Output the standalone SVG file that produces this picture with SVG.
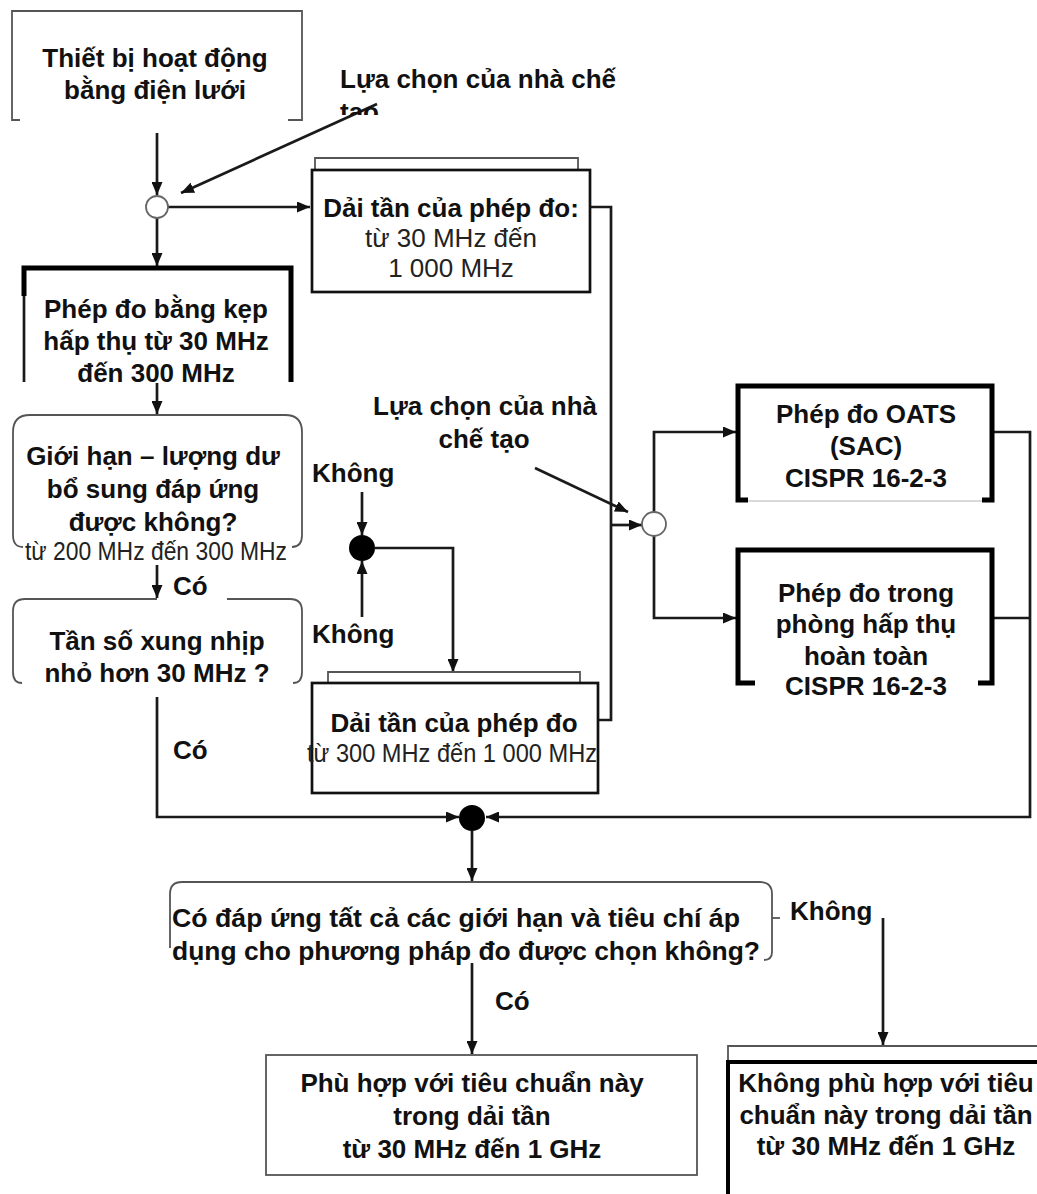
<svg xmlns="http://www.w3.org/2000/svg" width="1037" height="1194" viewBox="0 0 1037 1194">
<defs>
<marker id="ah" markerUnits="userSpaceOnUse" markerWidth="13" markerHeight="11" viewBox="0 0 13 11" refX="13" refY="5.5" orient="auto"><path d="M0,0 L13,5.5 L0,11 z" fill="#111"/></marker>
<clipPath id="clipTao"><rect x="330" y="95" width="80" height="20"/></clipPath>
</defs>
<style>
.b{font-family:"Liberation Sans",Arial,sans-serif;font-weight:bold;font-size:26px;fill:#111}
.r{font-family:"Liberation Sans",Arial,sans-serif;font-size:26px;fill:#222}
.c{text-anchor:middle}
.ln{fill:none;stroke:#1a1a1a;stroke-width:2.7}
.thin{fill:none;stroke:#555;stroke-width:1.8}
.thick{fill:none;stroke:#000;stroke-width:5}
.box{fill:#fff;stroke:#111;stroke-width:2.7}
.dot{fill:#000}
.ring{fill:#fff;stroke:#666;stroke-width:1.8}
</style>
<rect width="1037" height="1194" fill="#fff"/>

<g id="connectors">
<path class="ln" d="M157,133 V195" marker-end="url(#ah)"/>
<path class="ln" d="M157,218 V266" marker-end="url(#ah)"/>
<path class="ln" d="M168,207 H310" marker-end="url(#ah)"/>
<path class="ln" d="M377,104 L181,193" marker-end="url(#ah)"/>
<path class="ln" d="M590,207 H611 V720 H598"/>
<path class="ln" d="M611,525 H642" marker-end="url(#ah)"/>
<path class="ln" d="M535,468 L628,512" marker-end="url(#ah)"/>
<path class="ln" d="M654,512 V432 H736" marker-end="url(#ah)"/>
<path class="ln" d="M654,536 V618 H736" marker-end="url(#ah)"/>
<path class="ln" d="M992,432 H1030 V817 H486" marker-end="url(#ah)"/>
<path class="ln" d="M992,618 H1030"/>
<path class="ln" d="M157,383 V414" marker-end="url(#ah)"/>
<path class="ln" d="M157,565 V598" marker-end="url(#ah)"/>
<path class="ln" d="M157,697 V817 H459" marker-end="url(#ah)"/>
<path class="ln" d="M362,492 V535" marker-end="url(#ah)"/>
<path class="ln" d="M362,617 V561" marker-end="url(#ah)"/>
<path class="ln" d="M375,548 H453 V672" marker-end="url(#ah)"/>
<path class="ln" d="M472,831 V881" marker-end="url(#ah)"/>
<path class="ln" d="M472,963 V1054" marker-end="url(#ah)"/>
<path class="ln" d="M883,918 V1045" marker-end="url(#ah)"/>
</g>

<g id="junctions">
<circle class="ring" cx="157" cy="207" r="11"/>
<circle class="ring" cx="654" cy="524" r="12"/>
<circle class="dot" cx="362" cy="548" r="13"/>
<circle class="dot" cx="472" cy="818" r="13"/>
</g>

<g id="n-mains">
<path class="thin" d="M20,120 H12 V11 H302 V120 H288"/>
<text class="b c" x="155" y="67">Thiết bị hoạt động</text>
<text class="b c" x="155" y="99">bằng điện lưới</text>
</g>

<g id="lbl-choice1">
<text class="b" x="340" y="88">Lựa chọn của nhà chế</text>
<text class="b" x="340" y="121" clip-path="url(#clipTao)">tạo</text>
</g>

<g id="n-range1">
<path class="thin" d="M315,170 V158 H578 V170"/>
<rect class="box" x="312" y="170" width="278" height="122"/>
<text class="b c" x="451" y="217">Dải tần của phép đo:</text>
<text class="r c" x="451" y="247">từ 30 MHz đến</text>
<text class="r c" x="451" y="277">1 000 MHz</text>
</g>

<g id="n-clamp">
<path class="thick" d="M24,296 V268 H291 V382"/>
<path class="ln" d="M24,296 V382"/>
<text class="b c" x="156" y="318">Phép đo bằng kẹp</text>
<text class="b c" x="156" y="350">hấp thụ từ 30 MHz</text>
<text class="b c" x="156" y="382">đến 300 MHz</text>
</g>

<g id="n-limit">
<path class="thin" d="M23,547 Q13,547 13,535 V432 Q13,415 30,415 H285 Q302,415 302,432 V535 Q302,547 292,547"/>
<text class="b c" x="153" y="465">Giới hạn – lượng dư</text>
<text class="b c" x="153" y="498">bổ sung đáp ứng</text>
<text class="b c" x="153" y="531">được không?</text>
<text class="r" x="25" y="560" textLength="262" lengthAdjust="spacingAndGlyphs">từ 200 MHz đến 300 MHz</text>
</g>

<g id="lbl-yes1"><text class="b" x="173" y="595">Có</text></g>

<g id="n-clock">
<path class="thin" d="M157,599 H25 Q13,599 13,611 V672 Q13,683 22,683"/>
<path class="thin" d="M227,599 H290 Q302,599 302,611 V672 Q302,683 293,683"/>
<text class="b c" x="157" y="650">Tần số xung nhịp</text>
<text class="b c" x="157" y="682">nhỏ hơn 30 MHz ?</text>
</g>

<g id="lbl-yes2"><text class="b" x="173" y="759">Có</text></g>
<g id="lbl-no1"><text class="b" x="312" y="482">Không</text></g>
<g id="lbl-no2"><text class="b" x="312" y="643">Không</text></g>

<g id="n-range2">
<path class="thin" d="M328,683 V672 H580 V683"/>
<rect class="box" x="312" y="683" width="286" height="110"/>
<text class="b c" x="454" y="732">Dải tần của phép đo</text>
<text class="r" x="307" y="762" textLength="290" lengthAdjust="spacingAndGlyphs">từ 300 MHz đến 1 000 MHz</text>
</g>

<g id="lbl-choice2">
<text class="b c" x="485" y="415">Lựa chọn của nhà</text>
<text class="b c" x="484" y="448">chế tạo</text>
</g>

<g id="n-oats">
<path class="thick" d="M748,500 H738 V386 H992 V500 H982"/>
<path fill="none" stroke="#ccc" stroke-width="1.5" d="M748,501 H982"/>
<text class="b c" x="866" y="423">Phép đo OATS</text>
<text class="b c" x="866" y="455">(SAC)</text>
<text class="b c" x="866" y="487">CISPR 16-2-3</text>
</g>

<g id="n-far">
<path class="thick" d="M755,683 H738 V550 H992 V683 H978"/>
<text class="b c" x="866" y="602">Phép đo trong</text>
<text class="b c" x="866" y="633">phòng hấp thụ</text>
<text class="b c" x="866" y="665">hoàn toàn</text>
<text class="b c" x="866" y="695">CISPR 16-2-3</text>
</g>

<g id="n-meets">
<path class="thin" d="M170,948 V894 Q170,882 182,882 H760 Q772,882 772,894 V952 Q772,960 764,960"/>
<path class="thin" d="M772,918 H780"/>
<text class="b" x="172" y="927" textLength="568" lengthAdjust="spacingAndGlyphs">Có đáp ứng tất cả các giới hạn và tiêu chí áp</text>
<text class="b" x="172" y="960" textLength="588" lengthAdjust="spacingAndGlyphs">dụng cho phương pháp đo được chọn không?</text>
</g>

<g id="lbl-no3"><text class="b" x="790" y="920">Không</text></g>
<g id="lbl-yes3"><text class="b" x="495" y="1010">Có</text></g>

<g id="n-comply">
<rect x="266" y="1055" width="431" height="120" fill="#fff" stroke="#555" stroke-width="1.8"/>
<text class="b c" x="472" y="1092">Phù hợp với tiêu chuẩn này</text>
<text class="b c" x="472" y="1125">trong dải tần</text>
<text class="b c" x="472" y="1158">từ 30 MHz đến 1 GHz</text>
</g>

<g id="n-noncomply">
<path class="thin" d="M728,1062 V1046 H1037"/>
<path fill="none" stroke="#000" stroke-width="4" d="M728,1194 V1062 H1037"/>
<text class="b c" x="886" y="1092">Không phù hợp với tiêu</text>
<text class="b c" x="886" y="1124">chuẩn này trong dải tần</text>
<text class="b c" x="886" y="1155">từ 30 MHz đến 1 GHz</text>
</g>
</svg>
